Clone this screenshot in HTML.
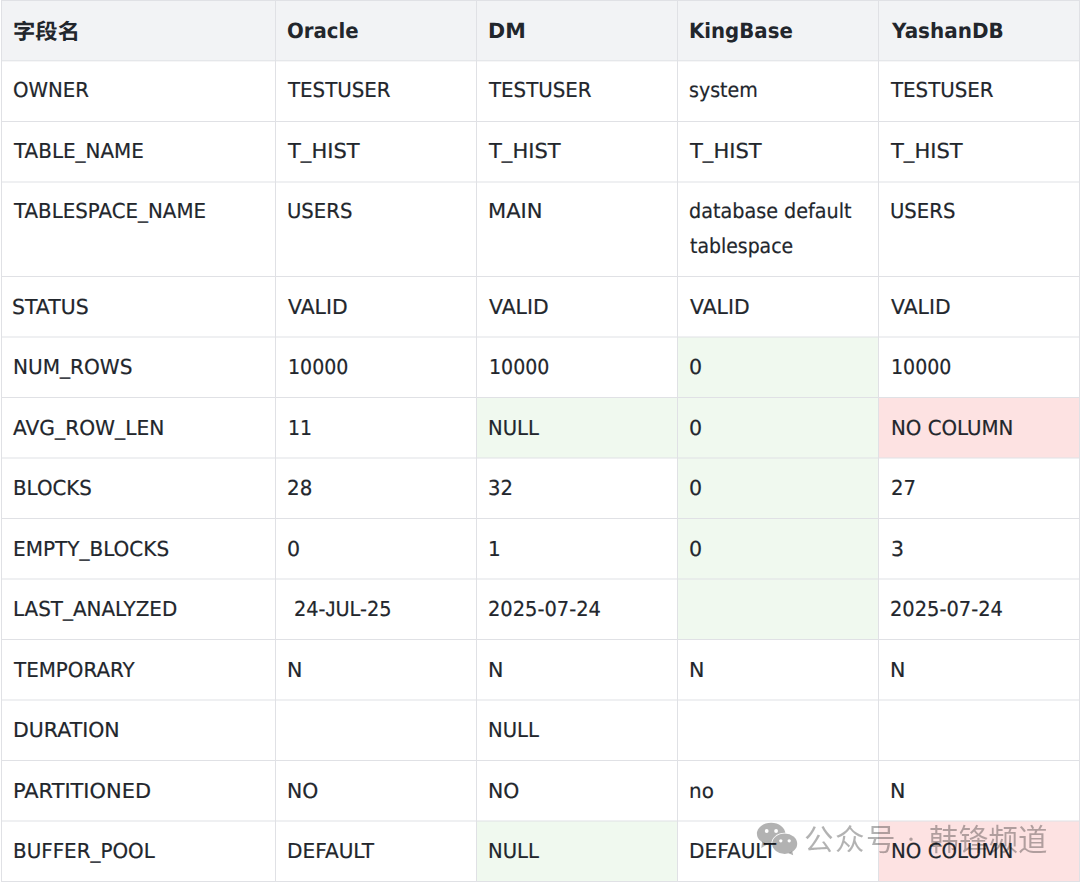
<!DOCTYPE html>
<html lang="zh-CN"><head><meta charset="utf-8"><title>字段对比</title><style>
html,body{margin:0;padding:0;}
body{width:1080px;height:882px;position:relative;overflow:hidden;background:#fff;
 font-family:"DejaVu Sans","Liberation Sans","Noto Sans CJK SC",sans-serif;font-size:20.6px;line-height:35px;color:#22262c;text-rendering:geometricPrecision;-webkit-text-stroke:0.2px #22262c;}
.bg{position:absolute;}
.hd{background:#f2f3f5;}
.g{background:#f0f9ef;}
.r{background:#fde2e2;}
#grid{position:absolute;left:0;top:0;}
.c{position:absolute;white-space:nowrap;transform-origin:0 0;height:35px;}
.th{font-weight:bold;font-size:21px;-webkit-text-stroke:0;}
.cj{font-size:21.4px;}
.lj{font-family:"Liberation Sans",sans-serif;font-size:21px;}
.wm{position:absolute;left:0;top:0;width:1080px;height:882px;color:rgba(0,0,0,0.3);font-family:"Noto Sans CJK SC","Liberation Sans",sans-serif;font-size:29.5px;line-height:40px;pointer-events:none;-webkit-text-stroke:0;text-rendering:auto;will-change:transform;}
.wm svg{position:absolute;left:750px;top:815px;}
.wm span{position:absolute;white-space:nowrap;top:817px;}
</style></head><body>
<div class="bg hd" style="left:1px;top:0;width:1079px;height:61px"></div>
<div class="bg g" style="left:678px;top:337px;width:200px;height:61px"></div>
<div class="bg g" style="left:477px;top:397px;width:200px;height:61px"></div>
<div class="bg g" style="left:678px;top:397px;width:200px;height:61px"></div>
<div class="bg r" style="left:879px;top:397px;width:201px;height:61px"></div>
<div class="bg g" style="left:678px;top:458px;width:200px;height:61px"></div>
<div class="bg g" style="left:678px;top:518px;width:200px;height:61px"></div>
<div class="bg g" style="left:678px;top:579px;width:200px;height:61px"></div>
<div class="bg g" style="left:477px;top:821px;width:200px;height:61px"></div>
<div class="bg r" style="left:879px;top:821px;width:201px;height:61px"></div>
<svg id="grid" width="1080" height="882" viewBox="0 0 1080 882"><g fill="#e0e1e5"><rect x="1" y="0" width="1" height="882"/><rect x="275" y="0" width="1" height="882"/><rect x="476" y="0" width="1" height="882"/><rect x="677" y="0" width="1" height="882"/><rect x="878" y="0" width="1" height="882"/><rect x="1079" y="0" width="1" height="882"/><rect x="1" y="0.00" width="1079" height="1"/><rect x="1" y="60.30" width="1079" height="1"/><rect x="1" y="121.00" width="1079" height="1"/><rect x="1" y="181.50" width="1079" height="1"/><rect x="1" y="276.00" width="1079" height="1"/><rect x="1" y="336.50" width="1079" height="1"/><rect x="1" y="397.00" width="1079" height="1"/><rect x="1" y="457.50" width="1079" height="1"/><rect x="1" y="518.00" width="1079" height="1"/><rect x="1" y="578.50" width="1079" height="1"/><rect x="1" y="639.00" width="1079" height="1"/><rect x="1" y="699.50" width="1079" height="1"/><rect x="1" y="760.00" width="1079" height="1"/><rect x="1" y="820.50" width="1079" height="1"/><rect x="1" y="881.00" width="1079" height="1"/></g></svg>
<div class="c th cj" style="left:13px;top:15px;transform:scaleX(1.0443);">字段名</div>
<div class="c th" style="left:287px;top:14px;transform:scaleX(0.9390);">Oracle</div>
<div class="c th" style="left:488px;top:14px;transform:scaleX(0.9846);">DM</div>
<div class="c th" style="left:689px;top:14px;transform:scaleX(0.9402);">KingBase</div>
<div class="c th" style="left:892px;top:14px;transform:scaleX(0.9514);">YashanDB</div>
<div class="c" style="left:13px;top:73px;transform:scaleX(0.9593);">OWNER</div>
<div class="c" style="left:288px;top:73px;transform:scaleX(0.9615);">TESTUSER</div>
<div class="c" style="left:489px;top:73px;transform:scaleX(0.9615);">TESTUSER</div>
<div class="c" style="left:689px;top:73px;transform:scaleX(0.9250);">system</div>
<div class="c" style="left:891px;top:73px;transform:scaleX(0.9615);">TESTUSER</div>
<div class="c" style="left:14px;top:134px;transform:scaleX(0.9667);">TABLE_NAME</div>
<div class="c" style="left:288px;top:134px;transform:scaleX(1.0219);">T_HIST</div>
<div class="c" style="left:489px;top:134px;transform:scaleX(1.0219);">T_HIST</div>
<div class="c" style="left:690px;top:134px;transform:scaleX(1.0219);">T_HIST</div>
<div class="c" style="left:891px;top:134px;transform:scaleX(1.0219);">T_HIST</div>
<div class="c" style="left:14px;top:194px;transform:scaleX(0.9623);">TABLESPACE_NAME</div>
<div class="c" style="left:287px;top:194px;transform:scaleX(0.9534);">USERS</div>
<div class="c" style="left:488px;top:194px;transform:scaleX(1.0226);">MAIN</div>
<div class="c" style="left:689px;top:194px;transform:scaleX(0.9320);">database default</div>
<div class="c" style="left:690px;top:229px;transform:scaleX(0.9165);">tablespace</div>
<div class="c" style="left:890px;top:194px;transform:scaleX(0.9534);">USERS</div>
<div class="c" style="left:12px;top:290px;transform:scaleX(0.9916);">STATUS</div>
<div class="c" style="left:288px;top:290px;transform:scaleX(0.9897);">VALID</div>
<div class="c" style="left:489px;top:290px;transform:scaleX(0.9897);">VALID</div>
<div class="c" style="left:690px;top:290px;transform:scaleX(0.9897);">VALID</div>
<div class="c" style="left:891px;top:290px;transform:scaleX(0.9897);">VALID</div>
<div class="c" style="left:13px;top:350px;transform:scaleX(0.9751);">NUM_ROWS</div>
<div class="c" style="left:288px;top:350px;transform:scaleX(0.9222);">10000</div>
<div class="c" style="left:489px;top:350px;transform:scaleX(0.9222);">10000</div>
<div class="c" style="left:689px;top:350px;">0</div>
<div class="c" style="left:891px;top:350px;transform:scaleX(0.9222);">10000</div>
<div class="c" style="left:13px;top:411px;transform:scaleX(0.9815);">AVG_ROW_LEN</div>
<div class="c" style="left:288px;top:411px;transform:scaleX(0.9154);">11</div>
<div class="c" style="left:488px;top:411px;transform:scaleX(0.9530);">NULL</div>
<div class="c" style="left:689px;top:411px;">0</div>
<div class="c" style="left:891px;top:411px;transform:scaleX(0.9605);">NO COLUMN</div>
<div class="c" style="left:13px;top:471px;transform:scaleX(0.9613);">BLOCKS</div>
<div class="c" style="left:287px;top:471px;transform:scaleX(0.9642);">28</div>
<div class="c" style="left:488px;top:471px;transform:scaleX(0.9499);">32</div>
<div class="c" style="left:689px;top:471px;">0</div>
<div class="c" style="left:891px;top:471px;transform:scaleX(0.9526);">27</div>
<div class="c" style="left:13px;top:532px;transform:scaleX(0.9718);">EMPTY_BLOCKS</div>
<div class="c" style="left:287px;top:532px;">0</div>
<div class="c" style="left:488px;top:532px;transform:scaleX(0.9700);">1</div>
<div class="c" style="left:689px;top:532px;">0</div>
<div class="c" style="left:891px;top:532px;transform:scaleX(0.9906);">3</div>
<div class="c" style="left:13px;top:592px;transform:scaleX(0.9669);">LAST_ANALYZED</div>
<div class="c" style="left:294px;top:592px;transform:scaleX(0.9378);">24-<span class="lj">J</span>UL-25</div>
<div class="c" style="left:488px;top:592px;transform:scaleX(0.9435);">2025-07-24</div>
<div class="c" style="left:890px;top:592px;transform:scaleX(0.9435);">2025-07-24</div>
<div class="c" style="left:14px;top:653px;transform:scaleX(0.9648);">TEMPORARY</div>
<div class="c" style="left:287px;top:653px;">N</div>
<div class="c" style="left:488px;top:653px;">N</div>
<div class="c" style="left:689px;top:653px;">N</div>
<div class="c" style="left:890px;top:653px;">N</div>
<div class="c" style="left:13px;top:713px;transform:scaleX(0.9957);">DURATION</div>
<div class="c" style="left:488px;top:713px;transform:scaleX(0.9530);">NULL</div>
<div class="c" style="left:13px;top:774px;transform:scaleX(1.0165);">PARTITIONED</div>
<div class="c" style="left:287px;top:774px;transform:scaleX(0.9898);">NO</div>
<div class="c" style="left:488px;top:774px;transform:scaleX(0.9898);">NO</div>
<div class="c" style="left:689px;top:774px;transform:scaleX(0.9678);">no</div>
<div class="c" style="left:890px;top:774px;">N</div>
<div class="c" style="left:13px;top:834px;transform:scaleX(0.9659);">BUFFER_POOL</div>
<div class="c" style="left:287px;top:834px;transform:scaleX(0.9758);">DEFAULT</div>
<div class="c" style="left:488px;top:834px;transform:scaleX(0.9530);">NULL</div>
<div class="c" style="left:689px;top:834px;transform:scaleX(0.9758);">DEFAULT</div>
<div class="c" style="left:891px;top:834px;transform:scaleX(0.9605);">NO COLUMN</div>
<div class="wm"><svg width="60" height="48" viewBox="0 0 60 48">
<defs><mask id="m1"><rect width="60" height="48" fill="#fff"/><circle cx="16.7" cy="16" r="1.9" fill="#000"/><circle cx="26.1" cy="16" r="1.9" fill="#000"/><ellipse cx="34.7" cy="28.75" rx="13.3" ry="10.95" fill="#000"/></mask>
<mask id="m2"><rect width="60" height="48" fill="#fff"/><circle cx="30.8" cy="25.8" r="1.65" fill="#000"/><circle cx="39.2" cy="25.8" r="1.65" fill="#000"/></mask></defs>
<g fill="currentColor" fill-opacity="1">
<g mask="url(#m1)"><ellipse cx="21.1" cy="18.65" rx="14.2" ry="10.85"/><path d="M12.2 26.5 L11.3 32.9 L17.5 29.2 Z"/></g>
<g mask="url(#m2)"><ellipse cx="34.7" cy="28.75" rx="12.5" ry="10.15"/><path d="M38.5 38.2 L43.2 40.2 L42.3 36.3 Z"/></g>
</g></svg><span style="left:804px;letter-spacing:1.5px">公众号</span><span style="left:903px;top:818px;font-size:16px">·</span><span style="left:929px;letter-spacing:0.2px">韩锋频道</span></div>
</body></html>
